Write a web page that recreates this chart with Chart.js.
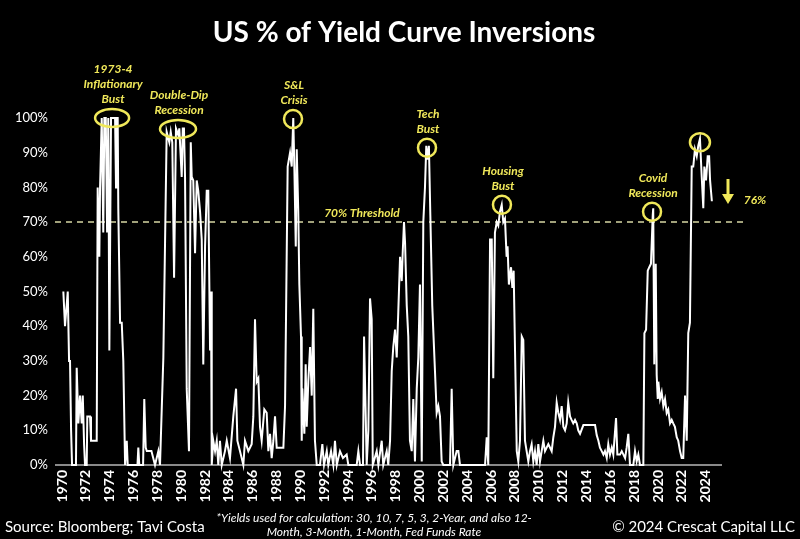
<!DOCTYPE html>
<html>
<head>
<meta charset="utf-8">
<title>US % of Yield Curve Inversions</title>
<script src="https://cdn.jsdelivr.net/npm/chart.js@4.4.1/dist/chart.umd.min.js"></script>
<style>
  html, body { margin: 0; padding: 0; background: #000; }
  canvas { display: block; }
</style>
</head>
<body>
<canvas id="chart" width="800" height="539"></canvas>
<script>
// decimal year of each reading, and % of yield curves inverted
const years = [
  1970.11, 1970.25, 1970.48, 1970.59, 1970.67, 1970.76, 1970.84, 1971.17, 1971.23, 1971.37,
  1971.51, 1971.65, 1971.74, 1971.85, 1971.93, 1972.07, 1972.12, 1972.35, 1972.43, 1972.91,
  1972.99, 1973.13, 1973.19, 1973.33, 1973.46, 1973.55, 1973.67, 1973.78, 1973.88, 1973.97,
  1974.11, 1974.45, 1974.53, 1974.59, 1974.67, 1974.72, 1974.87, 1975.01, 1975.14, 1975.29,
  1975.43, 1975.51, 1976.33, 1976.40, 1976.48, 1976.80, 1976.90, 1977.02, 1977.11, 1977.50,
  1977.80, 1978.08, 1978.22, 1978.50, 1978.78, 1979.00, 1979.12, 1979.25, 1979.40, 1979.56,
  1979.76, 1979.84, 1980.04, 1980.13, 1980.23, 1980.32, 1980.46, 1980.65, 1980.80, 1980.88,
  1981.01, 1981.16, 1981.30, 1981.43, 1981.58, 1981.72, 1981.85, 1982.00, 1982.14, 1982.27,
  1982.42, 1982.50, 1982.56, 1982.69, 1982.84, 1982.98, 1983.11, 1983.25, 1983.40, 1983.67,
  1983.82, 1984.09, 1984.37, 1984.60, 1984.71, 1984.93, 1985.21, 1985.35, 1985.63, 1985.91,
  1986.05, 1986.19, 1986.33, 1986.47, 1986.61, 1986.75, 1986.97, 1987.17, 1987.31, 1987.45,
  1987.59, 1987.73, 1987.87, 1988.01, 1988.57, 1988.71, 1988.93, 1989.13, 1989.27, 1989.40,
  1989.49, 1989.61, 1989.69, 1989.82, 1989.91, 1990.05, 1990.11, 1990.16, 1990.33, 1990.44,
  1990.53, 1990.66, 1990.81, 1990.95, 1991.08, 1991.22, 1991.37, 1991.64, 1991.84, 1991.98,
  1992.21, 1992.34, 1992.57, 1992.76, 1992.90, 1993.05, 1993.32, 1993.57, 1993.88, 1994.02,
  1994.72, 1994.86, 1995.00, 1995.25, 1995.34, 1995.48, 1995.56, 1995.70, 1995.84, 1995.98,
  1996.07, 1996.40, 1996.54, 1996.82, 1996.95, 1997.24, 1997.37, 1997.52, 1997.66, 1997.79,
  1997.94, 1998.08, 1998.21, 1998.36, 1998.50, 1998.58, 1998.69, 1998.78, 1998.92, 1999.05,
  1999.19, 1999.34, 1999.47, 1999.61, 1999.76, 1999.89, 2000.03, 2000.18, 2000.31, 2000.45,
  2000.56, 2000.65, 2000.78, 2000.90, 2001.06, 2001.29, 2001.43, 2001.57, 2001.71, 2001.85,
  2001.99, 2002.55, 2002.69, 2002.83, 2003.11, 2003.25, 2003.39, 2005.49, 2005.63, 2005.76,
  2005.91, 2006.05, 2006.18, 2006.32, 2006.47, 2006.60, 2006.74, 2006.89, 2007.02, 2007.16,
  2007.30, 2007.38, 2007.49, 2007.67, 2007.78, 2007.89, 2008.00, 2008.15, 2008.28, 2008.42,
  2008.57, 2008.70, 2008.84, 2008.98, 2009.12, 2009.26, 2009.40, 2009.54, 2009.68, 2009.82,
  2009.96, 2010.10, 2010.24, 2010.38, 2010.52, 2010.80, 2011.08, 2011.22, 2011.36, 2011.50,
  2011.64, 2011.78, 2011.92, 2012.06, 2012.20, 2012.34, 2012.47, 2012.62, 2012.75, 2012.89,
  2013.04, 2013.18, 2013.31, 2013.46, 2013.74, 2014.72, 2014.86, 2015.00, 2015.13, 2015.28,
  2015.42, 2015.55, 2015.70, 2015.83, 2015.97, 2016.12, 2016.25, 2016.48, 2016.59, 2016.81,
  2016.96, 2017.24, 2017.37, 2017.51, 2017.65, 2017.93, 2018.07, 2018.21, 2018.35, 2018.49,
  2018.77, 2018.86, 2019.00, 2019.14, 2019.27, 2019.41, 2019.56, 2019.60, 2019.69, 2019.81,
  2019.89, 2019.98, 2020.03, 2020.17, 2020.31, 2020.45, 2020.59, 2020.73, 2020.86, 2021.01,
  2021.15, 2021.28, 2021.42, 2021.57, 2021.70, 2021.85, 2021.99, 2022.12, 2022.27, 2022.41,
  2022.54, 2022.68, 2022.83, 2022.96, 2023.10, 2023.25, 2023.38, 2023.52, 2023.67, 2023.80,
  2023.89, 2024.03, 2024.17, 2024.29, 2024.37, 2024.52
];
const inversionPct = [
  50, 40, 50, 30, 30, 10, 0, 0, 28, 12,
  20, 12, 20, 6, 0, 0, 14, 14, 7, 7,
  80, 60, 80, 100, 67, 100, 100, 67, 100, 33,
  100, 100, 80, 100, 100, 74, 41, 41, 30, 0,
  7, 0, 0, 5, 0, 0, 19, 5, 4, 4,
  0, 4, 0, 31, 96, 93, 96, 93, 54, 97,
  95, 97, 83, 97, 97, 83, 22, 4, 93, 83,
  82, 61, 82, 79, 73, 65, 29, 63, 79, 79,
  33, 50, 0, 7, 4, 7, 0, 7, 0, 4,
  7, 2, 14, 22, 7, 4, 0, 7, 4, 6,
  14, 42, 24, 25, 11, 7, 16, 15, 4, 9,
  2, 7, 14, 5, 5, 17, 86, 90, 86, 100,
  86, 63, 91, 73, 52, 37, 7, 22, 9, 29,
  11, 24, 34, 20, 45, 7, 0, 0, 6, 0,
  4, 0, 4, 0, 7, 0, 4, 2, 3, 0,
  0, 4, 0, 0, 37, 14, 0, 10, 48, 42,
  0, 4, 0, 7, 0, 4, 0, 7, 27, 34,
  39, 31, 44, 60, 53, 61, 70, 64, 46, 37,
  7, 4, 19, 1, 22, 31, 52, 1, 70, 80,
  92, 88, 92, 72, 46, 27, 15, 17, 14, 1,
  0, 0, 22, 0, 4, 4, 0, 0, 8, 0,
  65, 65, 25, 67, 70, 69, 73, 75, 70, 71,
  60, 63, 52, 57, 51, 56, 34, 4, 1, 7,
  37, 36, 7, 4, 1, 4, 6, 1, 4, 0,
  6, 1, 4, 7, 4, 6, 4, 8, 11, 18,
  15, 13, 17, 11, 10, 12, 18, 14, 13, 12,
  13, 12, 10, 9, 11.5, 11.5, 8.6, 7, 5, 4,
  3, 4, 2, 6, 3, 5, 3, 13.5, 3, 3,
  4, 2, 5, 9, 0, 0, 4, 1, 3, 0,
  0, 38, 39, 56, 57, 58, 72, 74, 29, 58,
  26, 19, 24, 19, 21, 17, 19, 15, 16, 12,
  13, 12, 11, 8, 7, 4, 2, 2, 20, 7,
  38, 41, 86, 86, 91, 89, 92, 94, 83, 74,
  86, 82, 89, 89, 82, 76
];
const yearTicks = [];
for (let yr = 1970; yr <= 2024; yr += 2) yearTicks.push(yr);

const threshold = 70;
const latestLabel = '76%';

// circled episodes: anchor (year, %) and the caption above it
const events = [
  { lines: ['1973-4', 'Inflationary', 'Bust'], year: 1974.2, value: 100, rx: 17, ry: 9 },
  { lines: ['Double-Dip', 'Recession'], year: 1979.73, value: 96.8, rx: 18, ry: 9 },
  { lines: ['S&L', 'Crisis'], year: 1989.38, value: 99.7, rx: 9, ry: 9 },
  { lines: ['Tech', 'Bust'], year: 2000.62, value: 91.4, rx: 9, ry: 9 },
  { lines: ['Housing', 'Bust'], year: 2006.91, value: 75, rx: 9, ry: 9 },
  { lines: ['Covid', 'Recession'], year: 2019.5, value: 73, rx: 9, ry: 9 },
  { lines: [], year: 2023.52, value: 93, rx: 10, ry: 9 }
];

const YELLOW = '#f0e85a';
const FONT = 'Lato, "Open Sans", sans-serif';

const decorations = {
  id: 'decorations',
  beforeDatasetsDraw(chart) {
    const { ctx, chartArea, scales: { y } } = chart;
    const ty = y.getPixelForValue(threshold);
    ctx.save();
    ctx.strokeStyle = '#d8d8a4';
    ctx.lineWidth = 1.5;
    ctx.setLineDash([6, 5]);
    ctx.beginPath();
    ctx.moveTo(chartArea.left, ty);
    ctx.lineTo(748, ty);
    ctx.stroke();
    ctx.setLineDash([]);
    // baseline
    const by = y.getPixelForValue(0);
    ctx.strokeStyle = '#8a8a8a';
    ctx.lineWidth = 2;
    ctx.beginPath();
    ctx.moveTo(chartArea.left, by);
    ctx.lineTo(chartArea.right, by);
    ctx.stroke();
    ctx.restore();
  },
  afterDatasetsDraw(chart) {
    const { ctx, scales: { x, y } } = chart;
    ctx.save();
    ctx.fillStyle = YELLOW;
    ctx.strokeStyle = YELLOW;
    ctx.textAlign = 'center';
    ctx.textBaseline = 'middle';
    ctx.font = 'italic bold 12px ' + FONT;

    events.forEach(ev => {
      const cx = x.getPixelForValue(ev.year);
      const cy = y.getPixelForValue(ev.value);
      ctx.lineWidth = 2.5;
      ctx.beginPath();
      ctx.ellipse(cx, cy, ev.rx, ev.ry, 0, 0, Math.PI * 2);
      ctx.stroke();
      const n = ev.lines.length;
      ev.lines.forEach((t, i) => {
        ctx.fillText(t, cx + 1, cy - ev.ry - 10 - (n - 1 - i) * 15);
      });
    });

    const ty = y.getPixelForValue(threshold);
    ctx.fillText('70% Threshold', 362, ty - 9);

    // arrow pointing down to the latest reading
    ctx.lineWidth = 3;
    ctx.beginPath();
    ctx.moveTo(728, 179);
    ctx.lineTo(728, 196);
    ctx.stroke();
    ctx.beginPath();
    ctx.moveTo(722, 194);
    ctx.lineTo(734, 194);
    ctx.lineTo(728, 204);
    ctx.closePath();
    ctx.fill();
    ctx.fillText(latestLabel, 755, 200);
    ctx.restore();
  },
  afterDraw(chart) {
    const { ctx } = chart;
    ctx.save();
    ctx.fillStyle = '#ffffff';
    ctx.textBaseline = 'middle';
    ctx.textAlign = 'center';
    ctx.font = 'bold 28px ' + FONT;
    ctx.fillText('US % of Yield Curve Inversions', 404, 33);

    ctx.font = '15px ' + FONT;
    ctx.textAlign = 'left';
    ctx.fillText('Source: Bloomberg; Tavi Costa', 5, 527);
    ctx.textAlign = 'right';
    ctx.fillText('\u00A9 2024 Crescat Capital LLC', 795, 527);

    ctx.textAlign = 'center';
    ctx.font = 'italic 12px ' + FONT;
    ctx.fillText('*Yields used for calculation: 30, 10, 7, 5, 3, 2-Year, and also 12-', 374, 518);
    ctx.fillText('Month, 3-Month, 1-Month, Fed Funds Rate', 374, 532);
    ctx.restore();
  }
};

new Chart(document.getElementById('chart'), {
  type: 'line',
  data: {
    labels: years,
    datasets: [{
      data: years.map((yr, i) => ({ x: yr, y: inversionPct[i] })),
      borderColor: '#ffffff',
      borderWidth: 2,
      pointRadius: 0,
      tension: 0,
      fill: false,
      clip: false
    }]
  },
  options: {
    responsive: false,
    animation: false,
    layout: { padding: { top: 118, right: 78, bottom: 0, left: 0 } },
    plugins: {
      legend: { display: false },
      tooltip: { enabled: false }
    },
    scales: {
      x: {
        type: 'linear',
        min: 1969.41,
        max: 2025.37,
        afterBuildTicks: scale => {
          scale.ticks = yearTicks.map(v => ({ value: v }));
        },
        afterFit: scale => { scale.height = 74; },
        grid: { display: false, drawTicks: false },
        border: { display: false },
        ticks: {
          autoSkip: false,
          minRotation: 90,
          maxRotation: 90,
          padding: 5,
          color: '#ffffff',
          font: { family: FONT, size: 14, weight: 'bold' },
          callback: v => String(v)
        }
      },
      y: {
        min: 0,
        max: 100,
        afterFit: scale => { scale.width = 55; },
        grid: { display: false, drawTicks: false },
        border: { display: false },
        ticks: {
          stepSize: 10,
          padding: 7,
          color: '#ffffff',
          font: { family: FONT, size: 13 },
          callback: v => v + '%'
        }
      }
    }
  },
  plugins: [decorations]
});
</script>
</body>
</html>
